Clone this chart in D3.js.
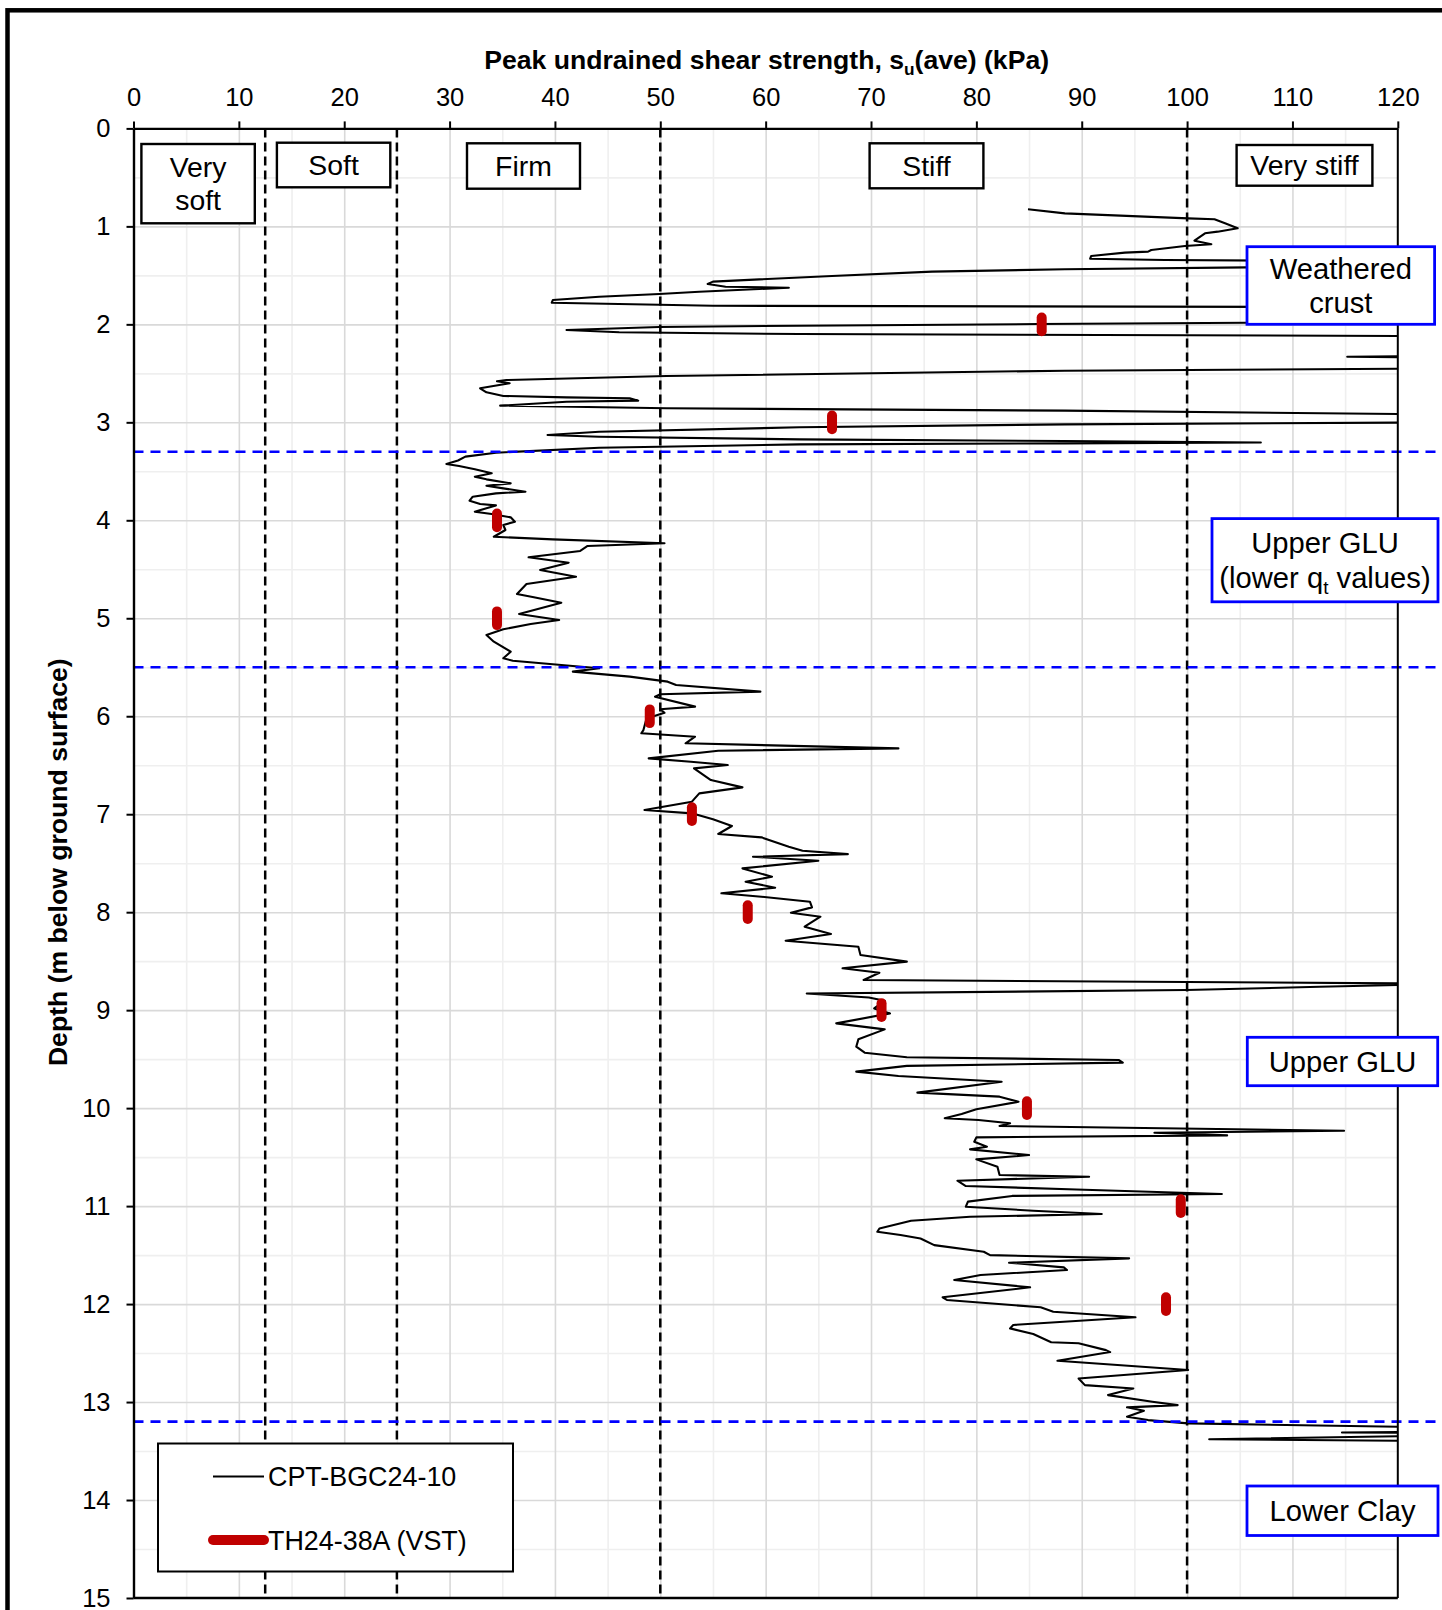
<!DOCTYPE html>
<html>
<head>
<meta charset="utf-8">
<script src="https://cdn.jsdelivr.net/npm/d3@7/dist/d3.min.js"></script>
<style>
  body { margin: 0; background: #fff; }
  svg { display: block; font-family: 'Liberation Sans', Arial, sans-serif; }
</style>
</head>
<body>
<div id="chart"></div>
<script>
// ---- data ----
const suTicks = [0, 10, 20, 30, 40, 50, 60, 70, 80, 90, 100, 110, 120];
const depthTicks = [0, 1, 2, 3, 4, 5, 6, 7, 8, 9, 10, 11, 12, 13, 14, 15];
const consistencyLimits = [12.5, 25, 50, 100];
const consistencyLabels = [['Very', 'soft'], ['Soft'], ['Firm'], ['Stiff'], ['Very stiff']];
const unitBoundaries = [3.3, 5.5, 13.2];
const unitLabels = [['Weathered', 'crust'], ['Upper GLU', '(lower q|t values)'], ['Upper GLU'], ['Lower Clay']];
const seriesNames = ['CPT-BGC24-10', 'TH24-38A (VST)'];

// vane shear tests
const vstDepth = [2, 3, 4, 5, 6, 7, 8, 9, 10, 11, 12];
const vstSu = [86.2, 66.3, 34.5, 34.5, 49.0, 53.0, 58.3, 71.0, 84.8, 99.4, 98.0];

// CPT trace [su (kPa), depth (m)], values past 120 are cut at the plot edge
const cptTrace = [
  [84.9, 0.826], [88.4, 0.867], [100.1, 0.918], [102.6, 0.928], [103.6, 0.969], [104.8, 1.02],
  [102.9, 1.054], [101.7, 1.071], [100.7, 1.146], [102.3, 1.183], [99.8, 1.2], [96.6, 1.241],
  [96.3, 1.258], [94.1, 1.268], [90.9, 1.302], [90.8, 1.33], [97.9, 1.343], [125, 1.36],
  [125, 1.41], [105.7, 1.418], [88.4, 1.438], [75.8, 1.462], [66.3, 1.507], [59.4, 1.541],
  [55.0, 1.564], [54.5, 1.588], [56.2, 1.616], [62.2, 1.626], [59.4, 1.639], [53.7, 1.667],
  [49.9, 1.69], [44.2, 1.718], [39.8, 1.752], [39.7, 1.779], [55.0, 1.81], [125, 1.825],
  [125, 1.975], [105.7, 1.983], [85.9, 1.997], [63.2, 2.014], [49.9, 2.027], [41.1, 2.058],
  [46.1, 2.081], [63.2, 2.099], [125, 2.12], [125, 2.32], [115.2, 2.33], [125, 2.34],
  [125, 2.45], [88.4, 2.473], [50.6, 2.527], [35.4, 2.568], [34.5, 2.581], [35.7, 2.602],
  [32.9, 2.653], [33.5, 2.694], [35.1, 2.731], [41.1, 2.745], [47.1, 2.755], [47.9, 2.779],
  [41.1, 2.79], [34.8, 2.83], [50.6, 2.857], [88.4, 2.881], [125, 2.92], [125, 3.0],
  [88.4, 3.021], [63.2, 3.051], [44.2, 3.096], [39.3, 3.13], [44.2, 3.147], [63.2, 3.174],
  [88.4, 3.191], [107.0, 3.206], [88.4, 3.215], [63.2, 3.225], [44.2, 3.26], [34.4, 3.31],
  [31.5, 3.35], [30.8, 3.39], [29.7, 3.426], [30.9, 3.446], [32.4, 3.48], [34.0, 3.52],
  [32.4, 3.555], [33.5, 3.582], [35.8, 3.623], [33.5, 3.647], [35.1, 3.674], [37.2, 3.708],
  [34.4, 3.725], [32.2, 3.759], [31.9, 3.8], [32.9, 3.834], [34.4, 3.848], [32.4, 3.912],
  [34.0, 3.936], [35.8, 3.97], [36.2, 4.014], [35.1, 4.048], [35.3, 4.099], [34.2, 4.168],
  [39.8, 4.195], [50.4, 4.235], [43.1, 4.262], [42.4, 4.313], [37.5, 4.378], [41.3, 4.433],
  [38.6, 4.507], [42.0, 4.576], [37.3, 4.65], [36.4, 4.752], [38.0, 4.786], [40.6, 4.841],
  [36.6, 4.957], [40.4, 5.018], [37.7, 5.059], [35.1, 5.113], [33.5, 5.171], [34.2, 5.239],
  [35.8, 5.341], [35.1, 5.409], [36.0, 5.433], [41.7, 5.487], [44.2, 5.511], [41.7, 5.545],
  [47.1, 5.596], [50.7, 5.647], [51.5, 5.681], [59.5, 5.749], [50.0, 5.776], [49.5, 5.8],
  [53.3, 5.902], [50.0, 5.929], [50.4, 5.964], [48.7, 6.022], [48.4, 6.141], [48.2, 6.174],
  [53.3, 6.209], [52.4, 6.276], [72.6, 6.328], [55.5, 6.352], [48.9, 6.43], [52.9, 6.464],
  [56.4, 6.498], [53.2, 6.532], [54.8, 6.651], [57.8, 6.726], [53.7, 6.787], [53.0, 6.872],
  [48.5, 6.957], [53.0, 6.991], [55.0, 7.052], [56.8, 7.12], [55.5, 7.202], [59.6, 7.236],
  [62.2, 7.332], [63.5, 7.373], [67.8, 7.407], [58.8, 7.434], [65.0, 7.475], [57.8, 7.553],
  [60.6, 7.638], [58.1, 7.689], [60.9, 7.75], [55.8, 7.807], [59.6, 7.842], [64.2, 7.893],
  [64.4, 7.951], [62.4, 8.005], [65.2, 8.046], [63.7, 8.148], [66.2, 8.223], [61.9, 8.291],
  [68.8, 8.352], [69.0, 8.437], [73.4, 8.505], [67.3, 8.573], [70.8, 8.618], [69.3, 8.692],
  [125, 8.73], [112.6, 8.761], [99.9, 8.795], [63.9, 8.83], [69.8, 8.87], [71.3, 8.904],
  [70.3, 8.982], [71.8, 9.033], [66.7, 9.135], [71.3, 9.196], [68.8, 9.298], [68.6, 9.373],
  [69.4, 9.434], [73.4, 9.481], [93.5, 9.508], [93.9, 9.536], [73.4, 9.569], [68.6, 9.627],
  [72.6, 9.672], [82.4, 9.73], [74.4, 9.842], [82.2, 9.883], [84.0, 9.935], [80.0, 10.012],
  [78.6, 10.06], [77.0, 10.104], [80.2, 10.121], [83.2, 10.155], [82.2, 10.183], [114.9, 10.231],
  [96.9, 10.251], [103.8, 10.278], [80.0, 10.298], [79.8, 10.343], [81.0, 10.394], [79.4, 10.421],
  [85.0, 10.479], [80.0, 10.523], [82.0, 10.598], [82.2, 10.683], [90.7, 10.7], [78.2, 10.741],
  [79.0, 10.795], [89.5, 10.83], [103.3, 10.876], [83.4, 10.896], [79.2, 10.954], [79.0, 11.006],
  [85.4, 11.047], [91.9, 11.081], [79.4, 11.109], [73.8, 11.15], [70.8, 11.228], [70.6, 11.262],
  [72.8, 11.295], [74.7, 11.33], [76.0, 11.398], [80.7, 11.466], [81.3, 11.5], [94.5, 11.533],
  [83.1, 11.578], [88.3, 11.625], [88.6, 11.652], [80.4, 11.703], [77.9, 11.754], [85.1, 11.829],
  [76.8, 11.931], [77.2, 11.958], [86.1, 12.033], [87.3, 12.078], [95.1, 12.135], [83.5, 12.213],
  [83.2, 12.248], [85.4, 12.306], [87.1, 12.39], [89.7, 12.4], [92.3, 12.47], [92.7, 12.49],
  [87.7, 12.578], [100.1, 12.673], [89.7, 12.759], [90.3, 12.827], [94.9, 12.861], [92.5, 12.929],
  [96.7, 12.997], [99.1, 13.031], [94.3, 13.054], [95.9, 13.089], [94.3, 13.15], [96.3, 13.184],
  [100.1, 13.218], [125, 13.26], [125, 13.305], [114.7, 13.31], [125, 13.315], [125, 13.34],
  [102.1, 13.38], [125, 13.4]
];

// ---- layout ----
const WIDTH = 1442;
const HEIGHT = 1610;
const PLOT = { LEFT: 133.5, RIGHT: 1397.8, TOP: 128.4, BOTTOM: 1598 };
const FONT = 25.5;

const consistencyBoxes = [
  { x: 141.4, y: 144, w: 113.4, h: 79.3 },
  { x: 276.9, y: 142.7, w: 113.4, h: 44.6 },
  { x: 467, y: 143.3, w: 113, h: 45.4 },
  { x: 869.6, y: 143.3, w: 113.8, h: 45 },
  { x: 1236.6, y: 145, w: 135.8, h: 40.7 }
];
const unitBoxes = [
  { x: 1247, y: 246.7, w: 187.6, h: 77.6 },
  { x: 1212, y: 518.6, w: 226, h: 83.2 },
  { x: 1247.3, y: 1037.3, w: 190.4, h: 48.4 },
  { x: 1247, y: 1486, w: 191, h: 49.5 }
];

const xScale = d3.scaleLinear().domain([0, 120]).range([PLOT.LEFT, PLOT.RIGHT]);
const yScale = d3.scaleLinear().domain([0, 15]).range([PLOT.TOP, PLOT.BOTTOM]);

const svg = d3.select('#chart').append('svg').attr('width', WIDTH).attr('height', HEIGHT);

// outer frame (runs off the page on the right and bottom)
svg.append('rect')
  .attr('x', 7.5).attr('y', 10.3)
  .attr('width', WIDTH + 20).attr('height', HEIGHT + 20)
  .attr('fill', 'none').attr('stroke', '#000').attr('stroke-width', 4.5);

// grid: minor then major
const plotW = PLOT.RIGHT - PLOT.LEFT;
const plotH = PLOT.BOTTOM - PLOT.TOP;
const gridX = (values, color) => {
  svg.append('g')
    .attr('transform', 'translate(0,' + PLOT.BOTTOM + ')')
    .call(d3.axisBottom(xScale).tickValues(values).tickSizeInner(-plotH).tickSizeOuter(0).tickFormat(() => ''))
    .call((g) => g.select('.domain').remove())
    .call((g) => g.selectAll('.tick line').attr('stroke', color).attr('stroke-width', 1.6));
};
const gridY = (values, color) => {
  svg.append('g')
    .attr('transform', 'translate(' + PLOT.LEFT + ',0)')
    .call(d3.axisLeft(yScale).tickValues(values).tickSizeInner(-plotW).tickSizeOuter(0).tickFormat(() => ''))
    .call((g) => g.select('.domain').remove())
    .call((g) => g.selectAll('.tick line').attr('stroke', color).attr('stroke-width', 1.6));
};
gridX(suTicks.slice(0, -1).map((d) => d + 5), '#efefef');
gridY(depthTicks.slice(0, -1).map((d) => d + 0.5), '#efefef');
gridX(suTicks.slice(1, -1), '#d9d9d9');
gridY(depthTicks.slice(1, -1), '#d9d9d9');

// consistency limits
svg.append('g')
  .selectAll('line')
  .data(consistencyLimits)
  .join('line')
  .attr('x1', (d) => xScale(d)).attr('x2', (d) => xScale(d))
  .attr('y1', yScale(0)).attr('y2', yScale(15))
  .attr('stroke', '#000').attr('stroke-width', 2.5).attr('stroke-dasharray', '9,5');

// CPT trace
svg.append('clipPath').attr('id', 'plotClip')
  .append('rect').attr('x', PLOT.LEFT).attr('y', PLOT.TOP).attr('width', plotW).attr('height', plotH);

svg.append('path')
  .datum(cptTrace)
  .attr('clip-path', 'url(#plotClip)')
  .attr('fill', 'none')
  .attr('stroke', '#000')
  .attr('stroke-width', 2.1)
  .attr('stroke-linejoin', 'round')
  .attr('d', d3.line().x((d) => xScale(d[0])).y((d) => yScale(d[1])));

// VST markers
svg.append('g')
  .selectAll('line')
  .data(vstSu)
  .join('line')
  .attr('x1', (d) => xScale(d)).attr('x2', (d) => xScale(d))
  .attr('y1', (d, i) => yScale(vstDepth[i] - 0.07))
  .attr('y2', (d, i) => yScale(vstDepth[i] + 0.07))
  .attr('stroke', '#c00000').attr('stroke-width', 10).attr('stroke-linecap', 'round');

// unit boundaries
svg.append('g')
  .selectAll('line')
  .data(unitBoundaries)
  .join('line')
  .attr('x1', PLOT.LEFT).attr('x2', WIDTH)
  .attr('y1', (d) => yScale(d)).attr('y2', (d) => yScale(d))
  .attr('stroke', '#0000ff').attr('stroke-width', 2.6).attr('stroke-dasharray', '10,7');

// axes
const topAxis = svg.append('g')
  .attr('transform', 'translate(0,' + PLOT.TOP + ')')
  .call(d3.axisTop(xScale).tickValues(suTicks).tickSizeInner(7).tickSizeOuter(0).tickPadding(15));
const leftAxis = svg.append('g')
  .attr('transform', 'translate(' + PLOT.LEFT + ',0)')
  .call(d3.axisLeft(yScale).tickValues(depthTicks).tickSizeInner(7).tickSizeOuter(0).tickPadding(16));
[topAxis, leftAxis].forEach((g) => {
  g.select('.domain').attr('stroke', '#000').attr('stroke-width', 2.4);
  g.selectAll('.tick line').attr('stroke', '#000').attr('stroke-width', 2);
  g.selectAll('.tick text').attr('font-size', FONT).attr('fill', '#000')
    .attr('font-family', "'Liberation Sans', Arial, sans-serif");
});

// right and bottom plot borders
svg.append('line')
  .attr('x1', xScale(120)).attr('x2', xScale(120)).attr('y1', yScale(0)).attr('y2', yScale(15))
  .attr('stroke', '#000').attr('stroke-width', 2);
svg.append('line')
  .attr('x1', xScale(0)).attr('x2', xScale(120)).attr('y1', yScale(15)).attr('y2', yScale(15))
  .attr('stroke', '#000').attr('stroke-width', 2.4);

// axis titles
const TITLE_FONT = 26.6;
const title = svg.append('text')
  .attr('x', (PLOT.LEFT + PLOT.RIGHT) / 2 + 1)
  .attr('y', 69)
  .attr('text-anchor', 'middle')
  .attr('font-size', TITLE_FONT)
  .attr('font-weight', 'bold');
title.append('tspan').text('Peak undrained shear strength, s');
title.append('tspan').attr('font-size', TITLE_FONT * 0.65).attr('dy', 6).text('u');
title.append('tspan').attr('dy', -6).text('(ave) (kPa)');

svg.append('text')
  .attr('transform', 'translate(67,' + ((PLOT.TOP + PLOT.BOTTOM) / 2 - 1) + ') rotate(-90)')
  .attr('text-anchor', 'middle')
  .attr('font-size', TITLE_FONT)
  .attr('font-weight', 'bold')
  .text('Depth (m below ground surface)');

// label boxes
function drawBox(box, lines, color, strokeWidth, fontSize) {
  const g = svg.append('g');
  g.append('rect')
    .attr('x', box.x).attr('y', box.y).attr('width', box.w).attr('height', box.h)
    .attr('fill', '#fff').attr('stroke', color).attr('stroke-width', strokeWidth);
  const lineGap = fontSize * 1.17;
  const cy = box.y + box.h / 2;
  lines.forEach((line, i) => {
    const t = g.append('text')
      .attr('x', box.x + box.w / 2)
      .attr('y', cy + (i - (lines.length - 1) / 2) * lineGap + fontSize * 0.35)
      .attr('text-anchor', 'middle')
      .attr('font-size', fontSize);
    const parts = line.split('|');
    if (parts.length === 1) {
      t.text(line);
    } else {
      // subscript after the letter before '|'
      t.append('tspan').text(parts[0]);
      t.append('tspan').attr('font-size', fontSize * 0.65).attr('dy', 6).text(parts[1][0]);
      t.append('tspan').attr('dy', -6).text(parts[1].slice(1));
    }
  });
}
consistencyLabels.forEach((lines, i) => drawBox(consistencyBoxes[i], lines, '#000', 2.4, 28.4));
unitLabels.forEach((lines, i) => drawBox(unitBoxes[i], lines, '#0000ff', 2.8, 29.2));

// legend
const legend = svg.append('g');
legend.append('rect')
  .attr('x', 158).attr('y', 1443.5).attr('width', 355).attr('height', 128)
  .attr('fill', '#fff').attr('stroke', '#000').attr('stroke-width', 2);
const legendRows = [
  { y: 1476.5, color: '#000', width: 2, cap: 'butt' },
  { y: 1540, color: '#c00000', width: 10, cap: 'round' }
];
legendRows.forEach((row, i) => {
  legend.append('line')
    .attr('x1', 213).attr('x2', 264).attr('y1', row.y).attr('y2', row.y)
    .attr('stroke', row.color).attr('stroke-width', row.width).attr('stroke-linecap', row.cap);
  legend.append('text')
    .attr('x', 268).attr('y', row.y + 9.5)
    .attr('font-size', 26.9)
    .text(seriesNames[i]);
});
</script>
</body>
</html>
